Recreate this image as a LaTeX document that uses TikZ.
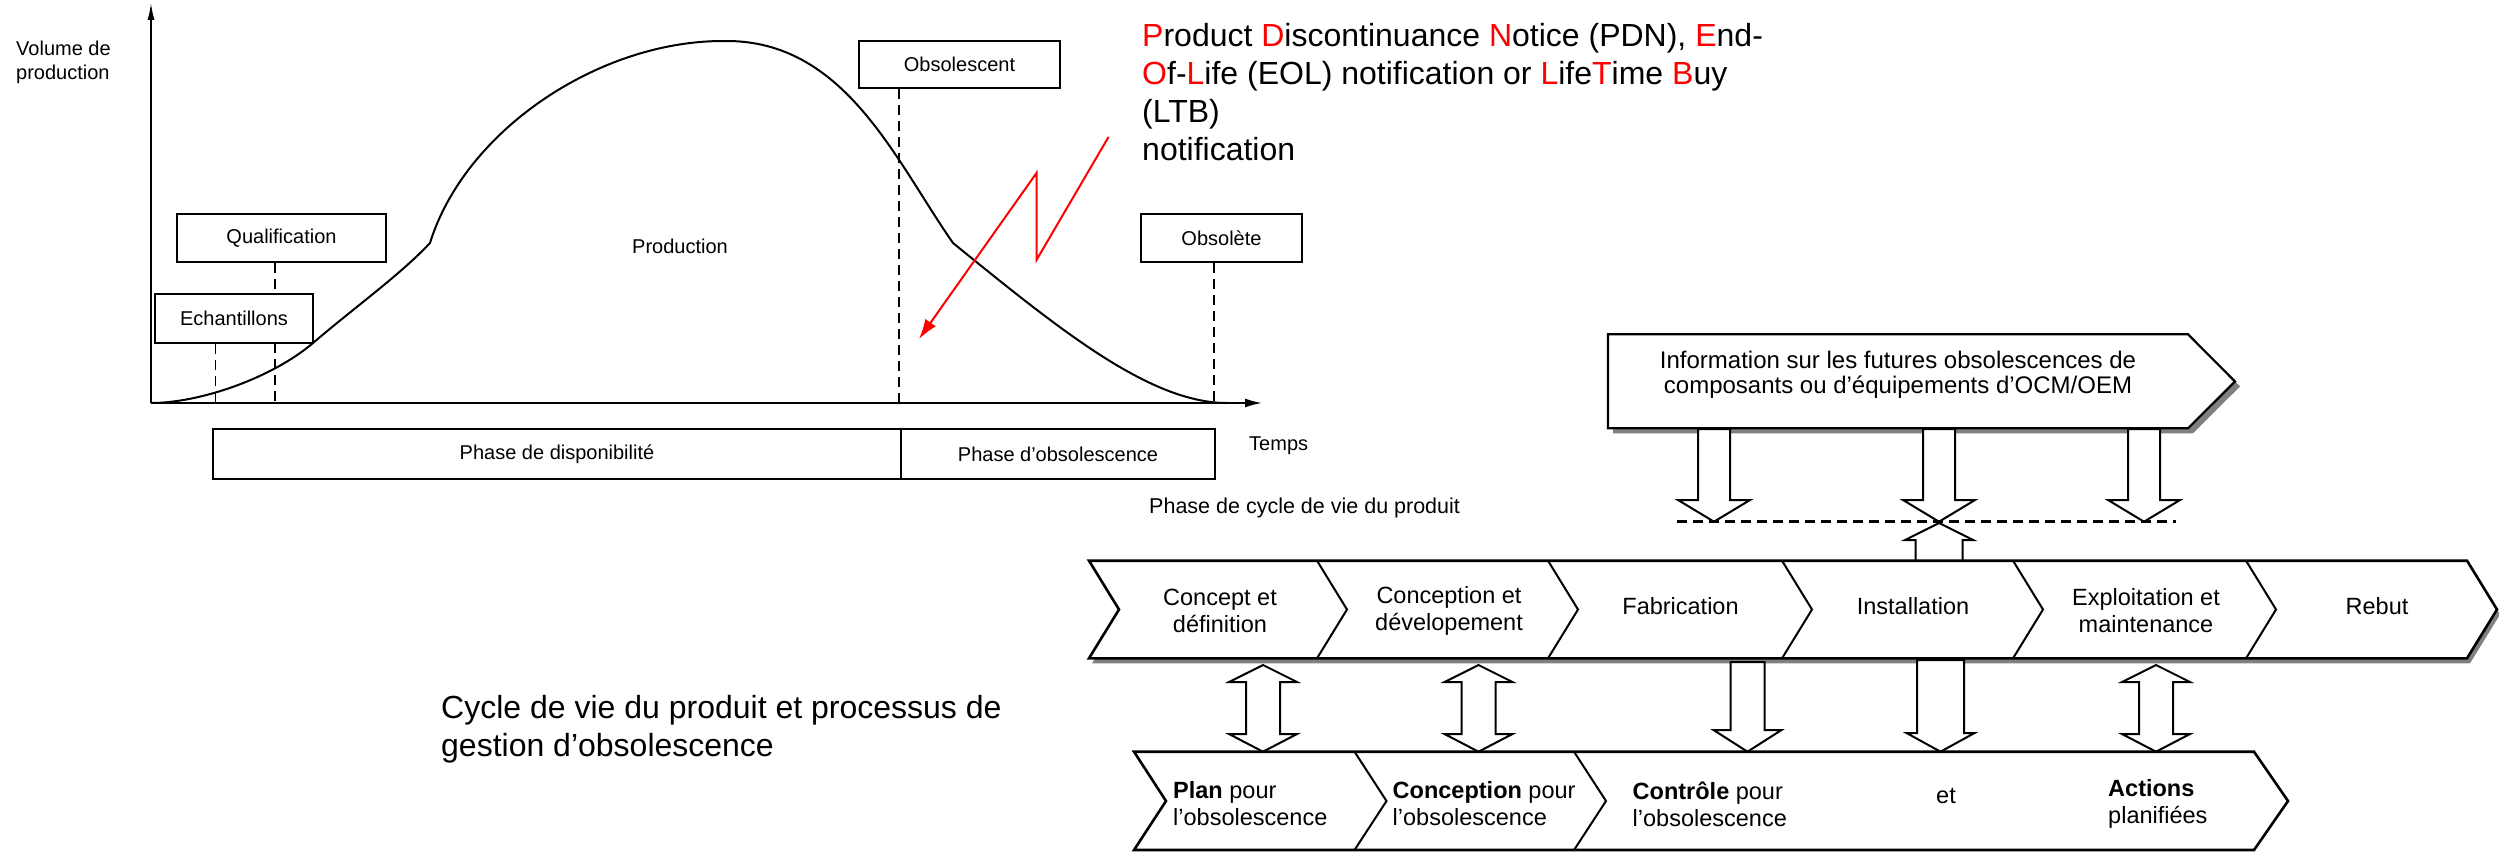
\documentclass[tikz,border=0pt]{standalone}
\usepackage{fontspec}
\setmainfont{Liberation Sans}
\usetikzlibrary{arrows.meta}
\tikzset{
 chartbox/.style={draw, line width=2.4, fill=white, inner sep=0, font=\fontsize{20}{24}\selectfont},
 chartlbl/.style={inner sep=0, font=\fontsize{20}{24}\selectfont},
 dashv/.style={line width=1.8, dash pattern=on 10pt off 6pt},
 curveline/.style={line width=2},
 bigtxt/.style={inner sep=0, anchor=base west, font=\fontsize{32}{38}\selectfont},
 barlbl/.style={inner sep=0, align=center, font=\fontsize{23.5}{27}\selectfont},
 botlbl/.style={inner sep=0, align=left, anchor=west, font=\fontsize{23.5}{27}\selectfont},
 blockar/.style={draw, fill=white, line width=2, line join=miter},
 shadowc/.style={fill=black!50},
 barline/.style={draw, fill=white, line width=2.6, line join=miter},
 sepline/.style={line width=2},
}
\newcommand{\blkdown}[6]{% x, ytop, ybase, ytip, shaft half, head half
 \draw[blockar] ({#1-#5},#2) -- ({#1-#5},#3) -- ({#1-#6},#3) -- (#1,#4) -- ({#1+#6},#3) -- ({#1+#5},#3) -- ({#1+#5},#2) -- cycle;}
\newcommand{\blkdouble}[7]{% x, ytip1, ybase1, ybase2, ytip2, shaft half, head half
 \draw[blockar] (#1,#2) -- ({#1+#7},#3) -- ({#1+#6},#3) -- ({#1+#6},#4) -- ({#1+#7},#4) -- (#1,#5) -- ({#1-#7},#4) -- ({#1-#6},#4) -- ({#1-#6},#3) -- ({#1-#7},#3) -- cycle;}
\begin{document}
\begin{tikzpicture}[x=1pt,y=-1pt]
\useasboundingbox (0,0) rectangle (2499,851);
% ---------------- left chart ----------------
\coordinate (O) at (151,403);
\coordinate (ytop) at (151,3);
\coordinate (xend) at (1262,403);
\node[chartbox, minimum width=209, minimum height=48] (qual) at (281.5,238) {Qualification};
\node[chartbox, minimum width=158, minimum height=49] (ech) at (234,318.5) {Echantillons};
\node[chartbox, minimum width=201, minimum height=47] (obsc) at (959.5,64.5) {Obsolescent};
\node[chartbox, minimum width=161, minimum height=48] (obst) at (1221.5,238) {Obsolète};
\coordinate (qd) at (275,403);
\coordinate (ed) at (215.5,403);
\coordinate (od) at (899,403);
\coordinate (td) at (1214,403);
\draw[dashv] (qual.south -| qd) -- (qd);
\draw[dashv] (ech.south -| ed) -- (ed);
\draw[dashv] (obsc.south -| od) -- (od);
\draw[dashv] (obst.south -| td) -- (td);
\draw[curveline] (O) .. controls (200,403) and (272,378) .. (313,343)
 .. controls (355,307) and (400,275) .. (430,243)
 .. controls (465,130) and (600,40) .. (725,41)
 .. controls (845,40) and (895,160) .. (953,243)
 .. controls (1060,330) and (1150,403) .. (1227,403);
\draw[line width=1.5, -{Latex[length=17,width=7]}] (O) -- (ytop);
\draw[line width=1.8, -{Latex[length=17,width=9]}] (O) -- (xend);
% redraw boxes above lines
\node[chartbox, minimum width=209, minimum height=48] at (qual) {Qualification};
\node[chartbox, minimum width=158, minimum height=49] at (ech) {Echantillons};
\node[chartbox, minimum width=201, minimum height=47] at (obsc) {Obsolescent};
\node[chartbox, minimum width=161, minimum height=48] at (obst) {Obsolète};
\node[chartlbl, align=left, anchor=west] (vol) at (16,62) {Volume de\\production};
\node[chartlbl] (prod) at (680,246) {Production};
\node[chartlbl, anchor=west] (temps) at (1249,446) {Temps};
\node[chartbox, minimum width=688, minimum height=50] (dispo) at (557,454) {Phase de disponibilité};
\node[chartbox, minimum width=314, minimum height=50] (obsph) at (1058,454) {Phase d’obsolescence};
% red lightning arrow
\coordinate (r1) at (1108.5,137);
\coordinate (r2) at (1036.5,260);
\coordinate (r3) at (1036.5,173);
\coordinate (r4) at (919,339);
\draw[red, line width=2, line join=miter, -{Latex[length=20,width=13]}] (r1) -- (r2) -- (r3) -- (r4);
% red text
\node[bigtxt] (t1) at (1142,46.7) {\textcolor{red}{P}roduct \textcolor{red}{D}iscontinuance \textcolor{red}{N}otice (PDN), \textcolor{red}{E}nd-};
\node[bigtxt] (t2) at (1142,84.7) {\textcolor{red}{O}f-\textcolor{red}{L}ife (EOL) notification or \textcolor{red}{L}ife\textcolor{red}{T}ime \textcolor{red}{B}uy};
\node[bigtxt] (t3) at (1142,122.7) {(LTB)};
\node[bigtxt] (t4) at (1142,160.7) {notification};
% caption texts
\node[bigtxt] (c1) at (441,718) {Cycle de vie du produit et processus de};
\node[bigtxt] (c2) at (441,756) {gestion d’obsolescence};
\node[inner sep=0, anchor=west, font=\fontsize{21.5}{25}\selectfont] (phcv) at (1149,508) {Phase de cycle de vie du produit};
% ---------------- right diagram ----------------
% info box
\fill[shadowc, shift={(5,5)}] (1608,334.3) -- (2188,334.3) -- (2235,381.5) -- (2188,428.3) -- (1608,428.3) -- cycle;
\draw[barline, line width=2.2] (1608,334.3) -- (2188,334.3) -- (2235,381.5) -- (2188,428.3) -- (1608,428.3) -- cycle;
\node[barlbl, font=\fontsize{24}{25}\selectfont] (info) at (1898,375) {Information sur les futures obsolescences de\\composants ou d’équipements d’OCM/OEM};
% arrows down from info
\blkdown{1714}{429}{500}{521.7}{16}{36}
\blkdown{1939}{429}{500}{521.7}{16}{36}
\blkdown{2144}{429}{500}{521.7}{16}{36}
% dashed line
\coordinate (dl) at (1677,521.7);
\coordinate (dr) at (2176,521.7);
\draw[line width=3, dash pattern=on 10pt off 6pt] (dl) -- (dr);
% process bar
\fill[shadowc, shift={(3,5)}] (1089,560.7) -- (2467,560.7) -- (2497,609.5) -- (2467,658.3) -- (1089,658.3) -- (1119,609.5) -- cycle;
% up arrow from Installation
\draw[blockar] (1915.5,562) -- (1915.5,540) -- (1905,540) -- (1939,523) -- (1973,540) -- (1962.5,540) -- (1962.5,562);
\draw[barline] (1089,560.7) -- (2467,560.7) -- (2497,609.5) -- (2467,658.3) -- (1089,658.3) -- (1119,609.5) -- cycle;
\foreach \s in {1317,1548,1782,2013,2246}
 \draw[sepline] (\s,560.7) -- ({\s+30},609.5) -- (\s,658.3);
\node[barlbl] (p1) at (1220,611) {Concept et\\définition};
\node[barlbl] (p2) at (1449,611) {Conception et\\dévelopement};
\node[barlbl] (p3) at (1680.5,606) {Fabrication};
\node[barlbl] (p4) at (1913,606) {Installation};
\node[barlbl] (p5) at (2146,611) {Exploitation et\\maintenance};
\node[barlbl] (p6) at (2377,606) {Rebut};
% arrows between bars
\blkdouble{1263}{665}{682}{734}{751.7}{17}{34}
\blkdouble{1478.5}{665}{682}{734}{751.7}{17}{34}
\blkdouble{2156}{665}{682}{734}{751.7}{17}{34}
\blkdown{1747.5}{662}{730}{751.7}{17}{34}
\blkdown{1940.5}{660}{733}{751.7}{23.5}{34}
% bottom bar
\draw[barline] (1134,751.7) -- (2254,751.7) -- (2288,801) -- (2254,850) -- (1134,850) -- (1166,801) -- cycle;
\foreach \s in {1354.5,1574}
 \draw[sepline] (\s,751.7) -- ({\s+32},801) -- (\s,850);
\node[botlbl] (b1) at (1173,804) {\textbf{Plan} pour\\l’obsolescence};
\node[botlbl] (b2) at (1392.5,804) {\textbf{Conception} pour\\l’obsolescence};
\node[botlbl] (b3) at (1632.5,804) {\textbf{Contrôle} pour\\l’obsolescence};
\node[botlbl] (b4) at (1936,796) {et};
\node[botlbl] (b5) at (2108,804) {\textbf{Actions}\\planifiées};
\end{tikzpicture}
\end{document}
